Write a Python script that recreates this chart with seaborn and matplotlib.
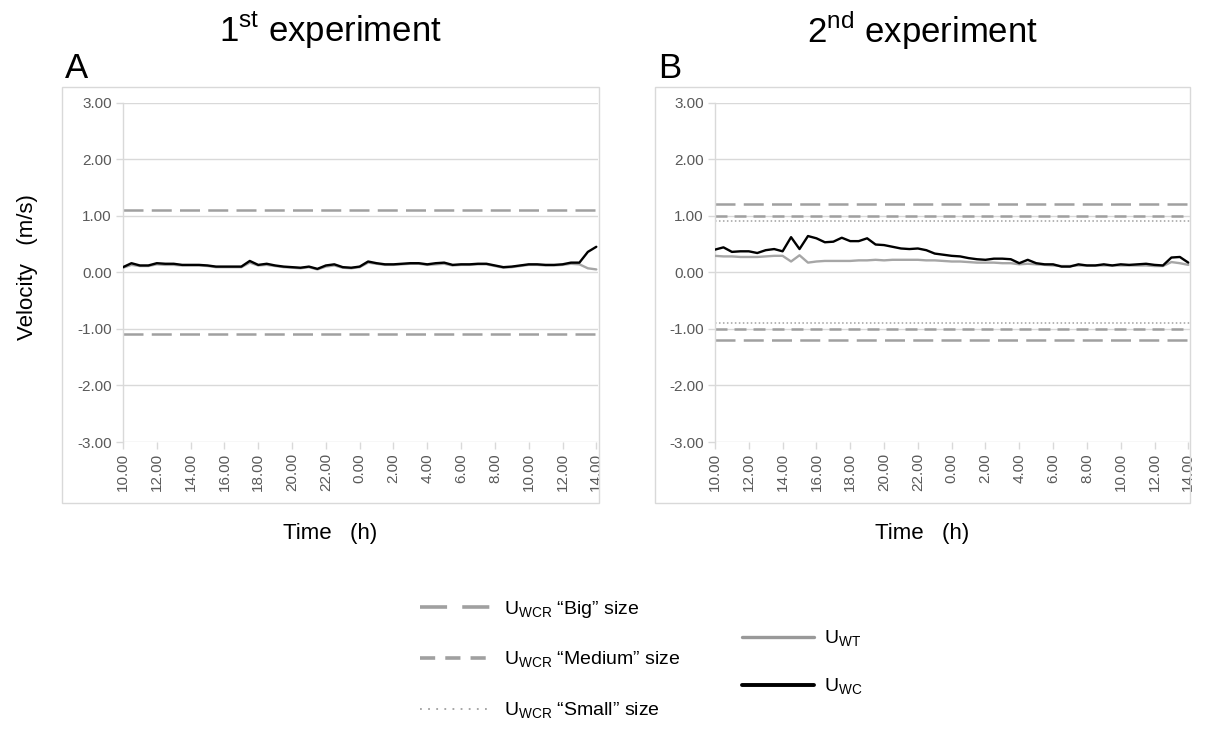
import numpy as np
import pandas as pd
import matplotlib
matplotlib.use('Agg')
import matplotlib.pyplot as plt
from matplotlib.lines import Line2D
from matplotlib.patches import Rectangle
import seaborn as sns

# ---------------- data ----------------
# half-hourly samples, 10:00 day 1 -> 14:00 day 2 (hours since midnight of day 1)
time_h = np.arange(10, 38.01, 0.5)
tick_pos = np.arange(10, 38.01, 2)
tick_labels = ["10.00", "12.00", "14.00", "16.00", "18.00", "20.00", "22.00", "0.00",
               "2.00", "4.00", "6.00", "8.00", "10.00", "12.00", "14.00"]

# 1st experiment
exp1_wc = [0.09, 0.16, 0.12, 0.12, 0.16, 0.15, 0.15, 0.13, 0.13, 0.13,
           0.12, 0.10, 0.10, 0.10, 0.10, 0.20, 0.13, 0.15, 0.12, 0.10,
           0.09, 0.08, 0.10, 0.06, 0.12, 0.14, 0.09, 0.08, 0.10, 0.19,
           0.16, 0.14, 0.14, 0.15, 0.16, 0.16, 0.14, 0.16, 0.17, 0.13,
           0.14, 0.14, 0.15, 0.15, 0.12, 0.09, 0.10, 0.12, 0.14, 0.14,
           0.13, 0.13, 0.14, 0.17, 0.17, 0.36, 0.45]
exp1_wt = [0.08, 0.13, 0.11, 0.11, 0.14, 0.13, 0.13, 0.12, 0.12, 0.12,
           0.11, 0.09, 0.09, 0.09, 0.09, 0.17, 0.12, 0.13, 0.11, 0.09,
           0.08, 0.07, 0.09, 0.05, 0.10, 0.12, 0.08, 0.07, 0.09, 0.17,
           0.15, 0.13, 0.13, 0.14, 0.15, 0.15, 0.13, 0.14, 0.15, 0.12,
           0.13, 0.13, 0.14, 0.14, 0.11, 0.08, 0.09, 0.11, 0.13, 0.13,
           0.12, 0.12, 0.13, 0.15, 0.14, 0.07, 0.05]
exp1_wcr = {"big": 1.10}

# 2nd experiment
exp2_wc = [0.40, 0.44, 0.36, 0.37, 0.37, 0.34, 0.39, 0.41, 0.37, 0.62,
           0.41, 0.64, 0.60, 0.53, 0.54, 0.61, 0.55, 0.55, 0.60, 0.49,
           0.48, 0.45, 0.42, 0.41, 0.42, 0.39, 0.33, 0.31, 0.29, 0.28,
           0.25, 0.23, 0.22, 0.24, 0.24, 0.23, 0.16, 0.22, 0.16, 0.14,
           0.14, 0.10, 0.10, 0.14, 0.12, 0.12, 0.14, 0.12, 0.14, 0.13,
           0.14, 0.15, 0.13, 0.12, 0.26, 0.27, 0.17]
exp2_wt = [0.29, 0.28, 0.28, 0.27, 0.27, 0.27, 0.28, 0.29, 0.29, 0.19,
           0.30, 0.17, 0.19, 0.20, 0.20, 0.20, 0.20, 0.21, 0.21, 0.22,
           0.21, 0.22, 0.22, 0.22, 0.22, 0.21, 0.21, 0.20, 0.19, 0.19,
           0.18, 0.17, 0.17, 0.17, 0.16, 0.16, 0.14, 0.15, 0.14, 0.13,
           0.12, 0.11, 0.11, 0.12, 0.12, 0.12, 0.12, 0.12, 0.12, 0.12,
           0.12, 0.12, 0.11, 0.11, 0.18, 0.16, 0.13]
exp2_wcr = {"big": 1.20, "medium": 1.00, "small": 0.90}

# ---------------- style ----------------
sns.set_theme(style="white")
plt.rcParams['font.family'] = ['Liberation Sans', 'DejaVu Sans']
plt.rcParams['mathtext.fontset'] = 'custom'
plt.rcParams['mathtext.rm'] = 'Liberation Sans'
plt.rcParams['text.color'] = 'black'

GRID = "#d9d9d9"
TICK = "#595959"
WT_COL = "#a6a6a6"
WCR_COL = "#a0a0a0"
wcr_style = {
    "big": dict(lw=1.8, ls=(0, (8, 3.3)), color=WCR_COL),
    "medium": dict(lw=1.8, ls=(0, (4.8, 2.8)), color=WCR_COL),
    "small": dict(lw=1.1, ls=(0, (1, 1.6)), color=WCR_COL),
}

fig = plt.figure(figsize=(12.2, 7.31), dpi=100)
W, H = 1220, 731


def fx(px):
    return px / W


def fy(py):
    return 1 - py / H


axes_px = [(123, 598), (715, 1190)]
boxes_px = [(62, 599), (655, 1190)]
panels = [
    (exp1_wt, exp1_wc, exp1_wcr, "1$^{\\mathregular{st}}$ experiment", "A"),
    (exp2_wt, exp2_wc, exp2_wcr, "2$^{\\mathregular{nd}}$ experiment", "B"),
]

for i, (wt, wc, wcr, title, letter) in enumerate(panels):
    x0, x1 = axes_px[i]
    ax = fig.add_axes([fx(x0), fy(442), fx(x1 - x0), (442 - 102.5) / H])
    bx0, bx1 = boxes_px[i]
    fig.patches.append(Rectangle((fx(bx0), fy(503)), fx(bx1 - bx0), (503 - 87) / H,
                                 transform=fig.transFigure, fill=False,
                                 edgecolor=GRID, lw=1.0, zorder=0))

    for y in range(-3, 4):
        ax.axhline(y, color=GRID, lw=1.0, zorder=1)
    for key, val in wcr.items():
        ax.axhline(val, zorder=2, **wcr_style[key])
        ax.axhline(-val, zorder=2, **wcr_style[key])

    df = pd.DataFrame({"time": time_h, "U_WT": wt, "U_WC": wc})
    sns.lineplot(data=df, x="time", y="U_WT", ax=ax, color=WT_COL, lw=1.7, zorder=3)
    sns.lineplot(data=df, x="time", y="U_WC", ax=ax, color="black", lw=1.7, zorder=4)

    ax.set_xlim(10, 38.1)
    ax.set_ylim(-3, 3)
    ax.set_yticks(range(-3, 4))
    ax.set_yticklabels([f"{v:.2f}" for v in range(-3, 4)])
    ax.set_xticks(tick_pos)
    ax.set_xticklabels(tick_labels, rotation=90)
    ax.set_xlabel("")
    ax.set_ylabel("")
    for s in ["top", "right", "bottom"]:
        ax.spines[s].set_visible(False)
    ax.spines["left"].set_color(GRID)
    ax.spines["left"].set_linewidth(1.0)
    ax.tick_params(axis="both", which="major", direction="out", length=5, width=1,
                   color=GRID, labelcolor=TICK, labelsize=11, pad=3,
                   left=True, bottom=True)
    ax.patch.set_visible(False)

    cx = fx((bx0 + bx1) / 2)
    fig.text(cx, fy(30), title, fontsize=25, ha="center", va="center")
    fig.text(fx(bx0 + 3), fy(68), letter, fontsize=25, ha="left", va="center")
    fig.text(cx, fy(534), "Time   (h)", fontsize=16, ha="center", va="center")

fig.text(fx(28), fy(267), "Velocity   (m/s)", fontsize=16, rotation=90,
         ha="center", va="center")

# ---------------- legends ----------------
leg1_handles = [
    Line2D([], [], color=WCR_COL, lw=2.6, ls=(0, (7.5, 4.2))),
    Line2D([], [], color=WCR_COL, lw=2.6, ls=(0, (4.2, 2.8))),
    Line2D([], [], color=WCR_COL, lw=1.3, ls=(0, (1, 3.5))),
]
leg1_labels = [
    "U$_{\\mathregular{WCR}}$ “Big” size",
    "U$_{\\mathregular{WCR}}$ “Medium” size",
    "U$_{\\mathregular{WCR}}$ “Small” size",
]
leg2_handles = [
    Line2D([], [], color="#999999", lw=2.4),
    Line2D([], [], color="black", lw=2.8),
]
leg2_labels = ["U$_{\\mathregular{WT}}$", "U$_{\\mathregular{WC}}$"]

fig.legend(leg1_handles, leg1_labels, loc="upper left",
           bbox_to_anchor=(fx(410), fy(589)), frameon=False, fontsize=14,
           handlelength=3.6, handletextpad=0.75, labelspacing=1.56,
           borderpad=0)
fig.legend(leg2_handles, leg2_labels, loc="upper left",
           bbox_to_anchor=(fx(732), fy(619)), frameon=False, fontsize=14,
           handlelength=3.7, handletextpad=0.55, labelspacing=1.41,
           borderpad=0)

fig.savefig("out.png", dpi=100)
